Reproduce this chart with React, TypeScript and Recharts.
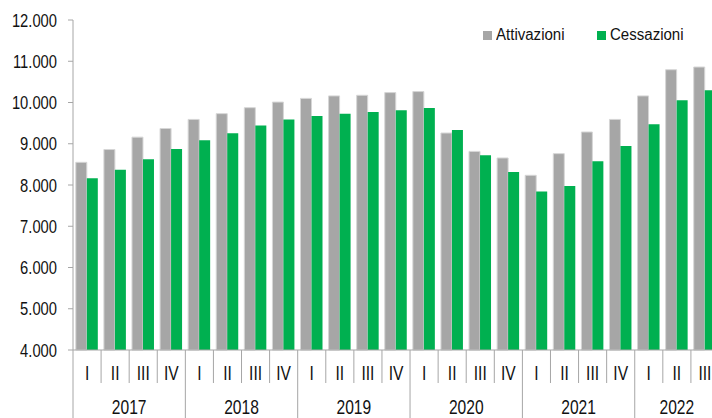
import { Bar, BarChart, XAxis, YAxis } from "recharts";

// Trimestri 2017 I – 2022 III
const QUARTERS = [
    "I", "II", "III", "IV",
    "I", "II", "III", "IV",
    "I", "II", "III", "IV",
    "I", "II", "III", "IV",
    "I", "II", "III", "IV",
    "I", "II", "III",
];
const YEARS = [
    "2017", "2017", "2017", "2017",
    "2018", "2018", "2018", "2018",
    "2019", "2019", "2019", "2019",
    "2020", "2020", "2020", "2020",
    "2021", "2021", "2021", "2021",
    "2022", "2022", "2022",
];
const ATTIVAZIONI = [
    8550, 8860, 9160, 9370, 9590, 9730, 9875, 10010, 10100, 10160, 10175, 10240,
    10265, 9260, 8815, 8655, 8235, 8760, 9285, 9590, 10160, 10795, 10860,
];
const CESSAZIONI = [
    8165, 8370, 8625, 8875, 9085, 9255, 9445, 9585, 9675, 9730, 9770, 9810,
    9865, 9335, 8720, 8315, 7845, 7975, 8575, 8945, 9470, 10055, 10295,
];
const Y_TICKS = [4000, 5000, 6000, 7000, 8000, 9000, 10000, 11000, 12000];

const SERIES = [
    { key: "att", name: "Attivazioni", color: "#A6A6A6" },
    { key: "cess", name: "Cessazioni", color: "#00B050" },
];

const FONT = '"Liberation Sans", Arial, sans-serif';
const TEXT = "#111";
const AXIS = "#A6A6A6";

const CHART_W = 740;
const CHART_H = 418;
const MARGIN = { top: 20, right: 21, bottom: 0, left: 8 };
const Y_AXIS_W = 65;
const PLOT_W = CHART_W - MARGIN.left - MARGIN.right - Y_AXIS_W;

const data = QUARTERS.map((q, i) => ({
    q,
    year: YEARS[i],
    att: ATTIVAZIONI[i],
    cess: CESSAZIONI[i],
}));

// 4000 -> "4.000"
function fmt(v: number) {
    const th = Math.floor(v / 1000);
    return `${th}.${String(v % 1000).padStart(3, "0")}`;
}

function YTick(props: any) {
    const { x, y, payload } = props;
    return (
        <text
            transform={`translate(${x},${y}) scale(0.82,1)`}
            textAnchor="end"
            dominantBaseline="central"
            fontSize={18}
            fontFamily={FONT}
            fill={TEXT}
        >
            {fmt(payload.value)}
        </text>
    );
}

/** Quarter label + separators, and the year label under the first quarter of each year. */
function QuarterTick(props: any) {
    const { x, y, index } = props;
    const bw = PLOT_W / data.length;
    const d = data[index];
    if (!d) return null;
    const left = x - bw / 2;
    const right = x + bw / 2;
    const first = index === 0 || data[index - 1].year !== d.year;
    const last = index === data.length - 1 || data[index + 1].year !== d.year;
    const n = data.filter((e) => e.year === d.year).length;

    return (
        <g>
            {index === 0 && (
                <line x1={left} x2={left} y1={y} y2={y + 70} stroke={AXIS} />
            )}
            <line
                x1={right}
                x2={right}
                y1={y}
                y2={last ? y + 70 : y + 33}
                stroke={AXIS}
            />
            <text
                transform={`translate(${x},${y + 23}) scale(0.78,1)`}
                textAnchor="middle"
                dominantBaseline="central"
                fontSize={20}
                fontFamily={FONT}
                fill={TEXT}
            >
                {d.q}
            </text>
            {first && (
                <text
                    transform={`translate(${left + (n * bw) / 2},${y + 57}) scale(0.78,1)`}
                    textAnchor="middle"
                    dominantBaseline="central"
                    fontSize={20}
                    fontFamily={FONT}
                    fill={TEXT}
                >
                    {d.year}
                </text>
            )}
        </g>
    );
}

function LegendBox() {
    return (
        <div
            style={{
                position: "absolute",
                top: 26,
                left: 483,
                display: "flex",
                alignItems: "center",
                fontFamily: FONT,
                fontSize: 16,
                color: TEXT,
                whiteSpace: "nowrap",
            }}
        >
            {SERIES.map((s, i) => (
                <div
                    key={s.key}
                    style={{
                        display: "flex",
                        alignItems: "center",
                        width: i === 0 ? 114 : undefined,
                    }}
                >
                    <span
                        style={{
                            display: "inline-block",
                            width: 9,
                            height: 9,
                            background: s.color,
                            marginRight: 4,
                        }}
                    />
                    <span
                        style={{
                            display: "inline-block",
                            transform: "scaleX(0.94)",
                            transformOrigin: "left center",
                        }}
                    >
                        {s.name}
                    </span>
                </div>
            ))}
        </div>
    );
}

export default function App() {
    return (
        <div
            style={{
                position: "absolute",
                left: 0,
                top: 0,
                width: 712,
                height: 418,
                overflow: "hidden",
                background: "#fff",
            }}
        >
            <BarChart
                width={CHART_W}
                height={CHART_H}
                data={data}
                margin={MARGIN}
                barCategoryGap="10%"
                barGap={0}
            >
                <XAxis
                    dataKey="q"
                    interval={0}
                    height={68}
                    tickLine={false}
                    tickSize={0}
                    tickMargin={0}
                    axisLine={{ stroke: AXIS }}
                    tick={<QuarterTick />}
                />
                <YAxis
                    domain={[4000, 12000]}
                    ticks={Y_TICKS}
                    width={Y_AXIS_W}
                    tickSize={5}
                    tickMargin={11}
                    axisLine={{ stroke: AXIS }}
                    tickLine={{ stroke: AXIS }}
                    tick={<YTick />}
                    interval={0}
                />
                <Bar
                    dataKey="att"
                    name="Attivazioni"
                    fill={SERIES[0].color}
                    stroke="#D6D6D6"
                    strokeWidth={1}
                    isAnimationActive={false}
                />
                <Bar
                    dataKey="cess"
                    name="Cessazioni"
                    fill={SERIES[1].color}
                    isAnimationActive={false}
                />
            </BarChart>
            <LegendBox />
        </div>
    );
}
